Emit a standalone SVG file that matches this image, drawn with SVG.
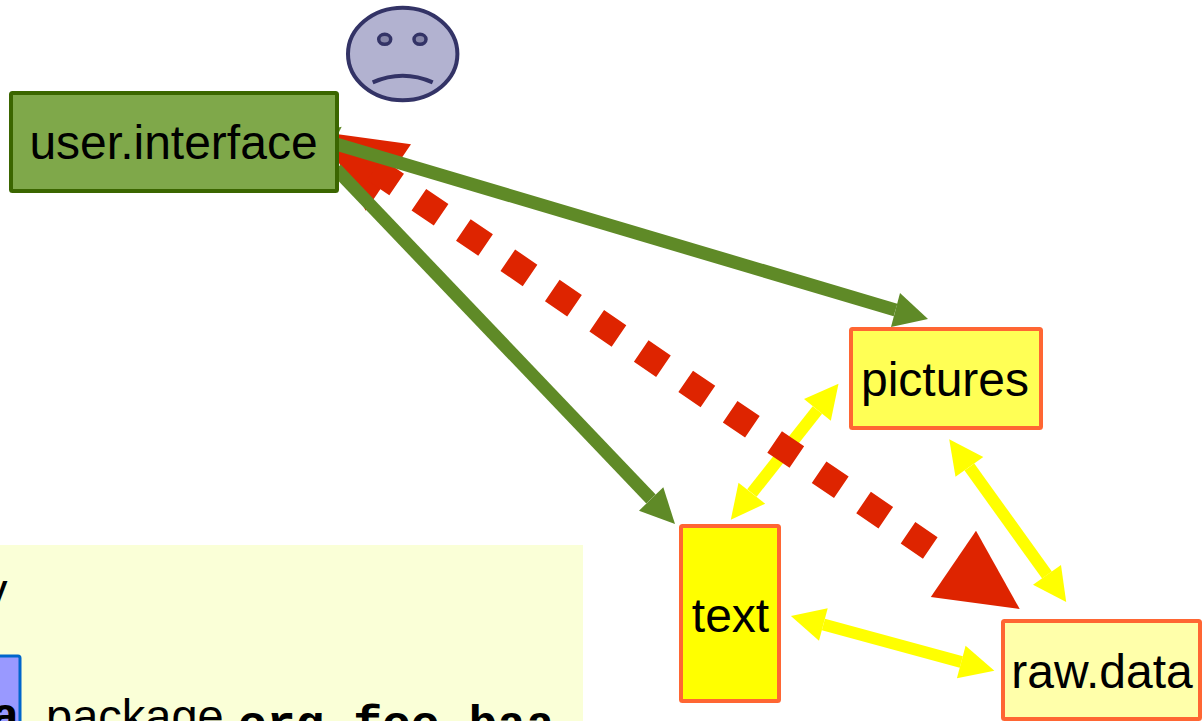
<svg xmlns="http://www.w3.org/2000/svg" width="1204" height="721" viewBox="0 0 1204 721">
<style>
.lbl{font-family:"Liberation Sans",Arial,sans-serif;font-size:48px;fill:#000;text-anchor:middle}
.mono{font-family:"Liberation Mono","Courier New",monospace;font-weight:bold;font-size:48px;fill:#000}
.sans{font-family:"Liberation Sans",Arial,sans-serif;font-size:47px;fill:#000}
.box{stroke-width:4}
.y{fill:#ffff00}.yl{stroke:#ffff00;stroke-width:12;fill:none}
.g{fill:#5f8a27}.gl{stroke:#5f8a27;stroke-width:13;fill:none}
.r{fill:#de2400}
</style>
<rect width="1204" height="721" fill="#fff"/>
<g id="note">
<rect x="0" y="545" width="583" height="176" fill="#faffd7"/>
<text x="-16" y="606" class="sans">y</text>
<rect x="-10" y="656" width="30" height="80" rx="2" fill="#9999ff" stroke="#0066cc" stroke-width="3"/>
<text x="-9" y="731" class="mono">a</text>
<text x="46" y="732" class="sans">package</text>
<text x="238" y="739" class="mono">org.foo.baa</text>
</g>
<g id="connectors">
<line class="yl" x1="817.400" y1="410" x2="751.900" y2="493"/>
<polygon class="y" points="838.500,383.700 804,399 830.800,420.700"/>
<polygon class="y" points="730.800,519.700 738.500,482.700 765.200,503.700"/>
<line class="yl" x1="969.400" y1="467" x2="1047" y2="575"/>
<polygon class="y" points="949.200,439.300 983.300,457 955.500,476.700"/>
<polygon class="y" points="1066.200,602 1061,565 1033,584.700"/>
<line class="yl" x1="823.400" y1="624.500" x2="961.300" y2="662"/>
<polygon class="y" points="790.900,616 827.700,608.300 819,640.700"/>
<polygon class="y" points="994.400,670.700 965.600,645.700 956.900,678.300"/>
<polygon class="r" points="321.700,132 411,144.300 365.700,210.700"/>
<line x1="374.400" y1="169.400" x2="930.800" y2="548.300" stroke="#de2400" stroke-width="26" stroke-dasharray="26.900 26.900"/>
<polygon class="r" points="1019.700,609 930.800,597 976,530.700"/>
<polygon class="g" points="336,138 341.700,126.700 336,128"/>
<line class="gl" x1="336" y1="144" x2="895.500" y2="310"/>
<polygon class="g" points="928,319 900,293 891,327"/>
<line class="gl" x1="336" y1="169" x2="651" y2="499"/>
<polygon class="g" points="675,524 663.300,487.300 639,510.700"/>
</g>
<g id="face">
<ellipse cx="402.700" cy="54" rx="54.700" ry="46.200" fill="#b2b2d0" stroke="#333366" stroke-width="4"/>
<ellipse cx="384.700" cy="39.300" rx="6" ry="5" fill="#8686a8" stroke="#333366" stroke-width="3.500"/>
<ellipse cx="420" cy="39.300" rx="6" ry="5" fill="#8686a8" stroke="#333366" stroke-width="3.500"/>
<path d="M372.700,82.300 Q402.700,69 432.700,82.300" fill="none" stroke="#333366" stroke-width="4"/>
</g>
<g id="user.interface">
<rect class="box" x="11" y="93" width="326" height="98" rx="1.500" fill="#7fa84a" stroke="#3b6600"/>
<text class="lbl" x="173.500" y="159">user.interface</text>
</g>
<g id="pictures">
<rect class="box" x="851" y="329" width="190" height="99" rx="1.500" fill="#ffff55" stroke="#ff6633"/>
<text class="lbl" x="945" y="396">pictures</text>
</g>
<g id="text">
<rect class="box" x="681" y="526" width="98" height="175" rx="1.500" fill="#ffff00" stroke="#ff6633"/>
<text class="lbl" x="730.500" y="632">text</text>
</g>
<g id="raw.data">
<rect class="box" x="1003" y="621" width="197" height="98" rx="1.500" fill="#ffffaa" stroke="#ff6633"/>
<text class="lbl" x="1102" y="688">raw.data</text>
</g>
</svg>
